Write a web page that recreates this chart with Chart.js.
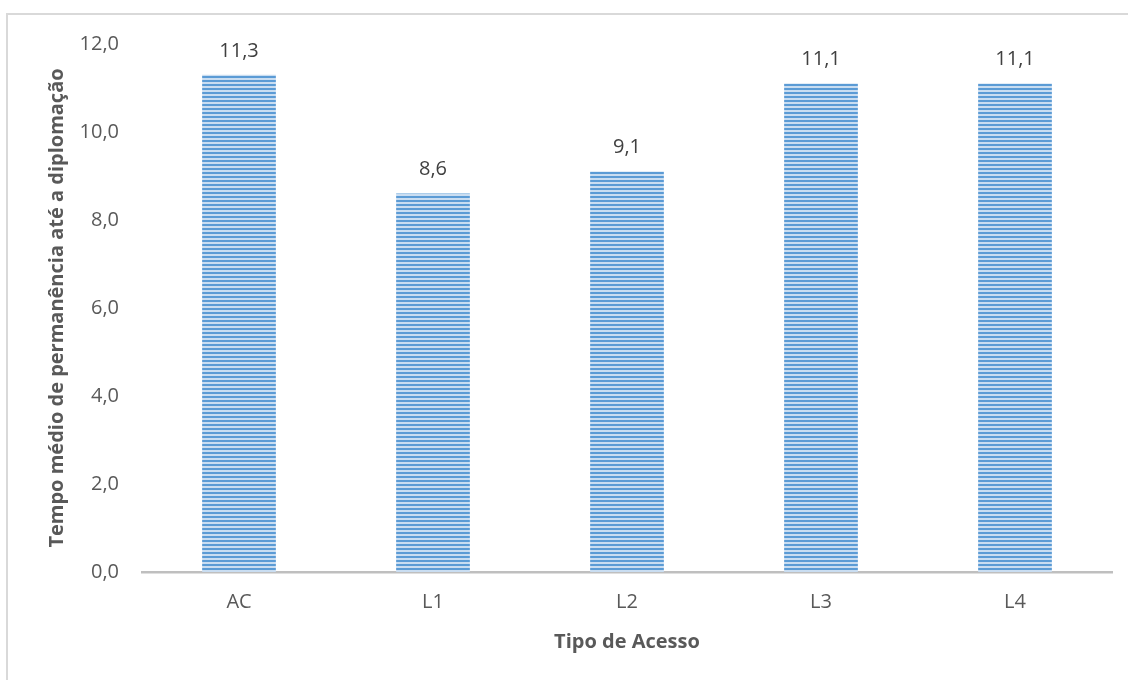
<!DOCTYPE html>
<html>
<head>
<meta charset="utf-8">
<script src="https://cdn.jsdelivr.net/npm/chart.js@4/dist/chart.umd.min.js"></script>
<style>
  html, body { margin: 0; padding: 0; background: #ffffff; }
  #wrap { position: relative; width: 1128px; height: 680px; overflow: hidden; }
  #frame { position: absolute; left: 6px; top: 13px; width: 1200px; height: 800px;
           border-left: 2px solid #d9d9d9; border-top: 2px solid #d9d9d9; }
  canvas { position: absolute; left: 0; top: 0; }
</style>
</head>
<body>
<div id="wrap">
  <div id="frame"></div>
  <canvas id="c" width="1128" height="680"></canvas>
</div>
<script>
const categories = ['AC', 'L1', 'L2', 'L3', 'L4'];
const values = [11.3, 8.6, 9.1, 11.1, 11.1];
const yTicks = [0, 2, 4, 6, 8, 10, 12];
const yTitle = 'Tempo médio de permanência até a diplomação';
const xTitle = 'Tipo de Acesso';

const FONT = '"Open Sans"';
const fmt = v => v.toFixed(1).replace('.', ',');

// striped pattern
const pc = document.createElement('canvas');
pc.width = 4; pc.height = 4;
const pctx = pc.getContext('2d');
pctx.fillStyle = '#5b9bd5'; pctx.fillRect(0, 0, 4, 2);
pctx.fillStyle = '#c9ddf1'; pctx.fillRect(0, 2, 4, 2);
const ctx = document.getElementById('c').getContext('2d');
const pattern = ctx.createPattern(pc, 'repeat');

const labelPlugin = {
  id: 'valueLabels',
  afterDatasetsDraw(chart) {
    const c = chart.ctx;
    const meta = chart.getDatasetMeta(0);
    c.save();
    c.font = '20px ' + FONT;
    c.fillStyle = '#404040';
    c.textAlign = 'center';
    c.textBaseline = 'middle';
    meta.data.forEach((bar, i) => {
      c.fillText(fmt(values[i]), bar.x, bar.y - 24);
    });
    c.restore();
  }
};

new Chart(ctx, {
  type: 'bar',
  data: {
    labels: categories,
    datasets: [{
      data: values,
      backgroundColor: pattern,
      borderWidth: 0,
      barPercentage: 0.38,
      categoryPercentage: 1.0
    }]
  },
  options: {
    responsive: false,
    animation: false,
    layout: { padding: { left: 0, right: 16, top: 44, bottom: 0 } },
    plugins: { legend: { display: false }, tooltip: { enabled: false } },
    scales: {
      x: {
        grid: { display: false, drawTicks: false },
        border: { display: true, color: '#bfbfbf', width: 2.5 },
        ticks: { color: '#595959', font: { family: 'Open Sans', size: 20 }, padding: 18 },
        title: { display: true, text: xTitle, color: '#595959',
                 font: { family: 'Open Sans', size: 20, weight: 'bold' }, padding: { top: 0, bottom: 26 } },
        afterFit(axis) { axis.height = 108; }
      },
      y: {
        min: 0, max: 12,
        afterBuildTicks(axis) { axis.ticks = yTicks.map(v => ({ value: v })); },
        grid: { display: false, drawTicks: false },
        border: { display: false },
        ticks: { color: '#595959', font: { family: 'Open Sans', size: 20 }, padding: 23,
                 callback: v => fmt(v) },
        title: { display: true, text: yTitle, color: '#595959',
                 font: { family: 'Open Sans', size: 20, weight: 'bold' }, padding: { top: 45, bottom: 0 } },
        afterFit(axis) { axis.width = 142; }
      }
    }
  },
  plugins: [labelPlugin]
});
</script>
</body>
</html>
